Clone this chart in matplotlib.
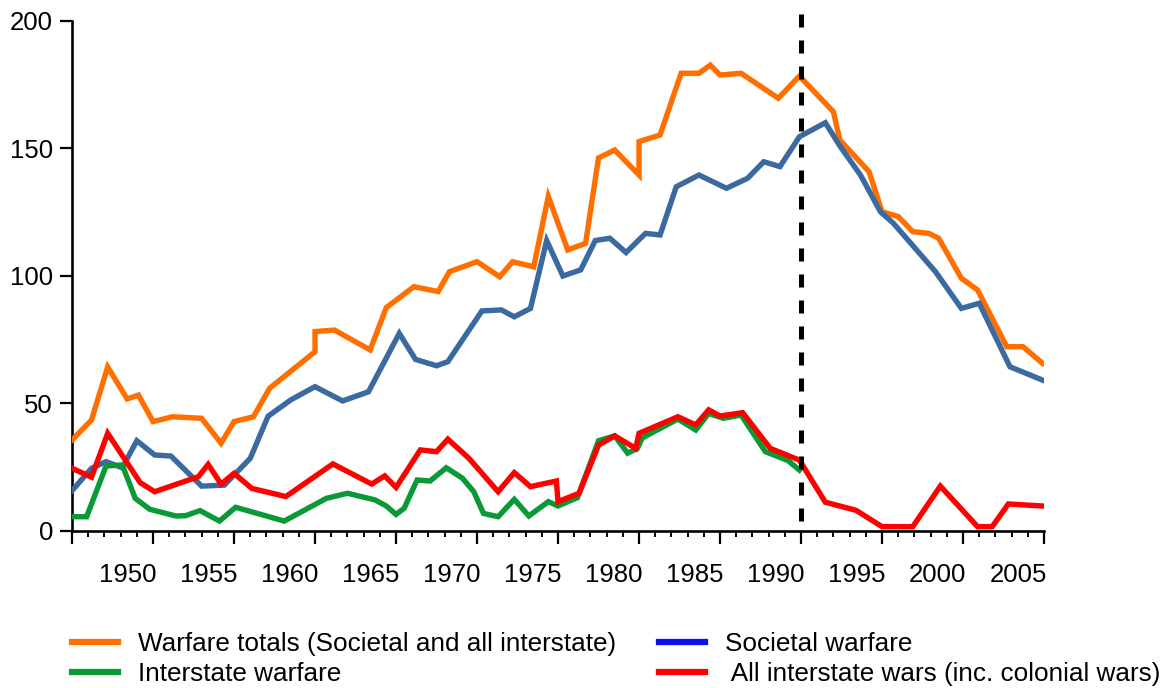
import matplotlib
matplotlib.use("Agg")
import matplotlib.pyplot as plt
from matplotlib.lines import Line2D

plt.rcParams['font.family'] = ['Liberation Sans', 'DejaVu Sans']

# values (year, count of wars)
total_years = [1946.0, 1947.2, 1948.2, 1949.4, 1950.1, 1951.0, 1952.2, 1954.0, 1955.2, 1956.0,
               1957.2, 1958.2, 1961.0, 1961.0, 1962.2, 1964.4, 1965.4, 1967.1, 1968.6, 1969.3,
               1971.0, 1972.4, 1973.2, 1974.5, 1975.4, 1976.6, 1977.7, 1978.5, 1979.5, 1981.0,
               1981.0, 1982.3, 1983.6, 1984.7, 1985.4, 1986.0, 1987.3, 1989.6, 1990.9, 1993.0,
               1993.4, 1995.2, 1996.0, 1997.0, 1997.9, 1998.9, 1999.5, 2000.9, 2001.9, 2003.7,
               2004.7, 2005.9]
total_vals = [35.7, 43.5, 64.3, 51.8, 53.3, 42.9, 44.8, 44.2, 34.4, 42.9,
              44.8, 56.0, 70.3, 78.2, 78.8, 71.0, 87.6, 95.8, 93.9, 101.7,
              105.6, 99.7, 105.6, 103.6, 131.2, 110.2, 112.8, 146.3, 149.4, 139.6,
              152.7, 155.3, 179.5, 179.5, 182.7, 178.8, 179.5, 169.7, 178.4, 164.4,
              153.3, 140.9, 125.2, 123.3, 117.4, 116.7, 114.8, 99.1, 94.5, 72.3,
              72.3, 65.8]

societal_years = [1946.0, 1947.2, 1948.1, 1949.1, 1950.0, 1951.1, 1952.1, 1954.0, 1955.4, 1957.0,
                  1958.1, 1959.5, 1961.0, 1962.7, 1964.3, 1966.2, 1967.2, 1968.5, 1969.2, 1971.3,
                  1972.5, 1973.3, 1974.3, 1975.3, 1976.3, 1977.4, 1978.3, 1979.2, 1980.2, 1981.4,
                  1982.3, 1983.3, 1984.7, 1986.4, 1987.7, 1988.7, 1989.7, 1990.9, 1992.5, 1993.4,
                  1994.7, 1995.9, 1996.7, 1999.3, 2000.9, 2002.0, 2003.9, 2005.9]
societal_vals = [15.8, 24.6, 27.2, 24.8, 35.4, 29.8, 29.4, 17.6, 18.0, 28.5,
                 45.0, 51.4, 56.6, 51.0, 54.6, 77.5, 67.3, 64.8, 66.4, 86.3,
                 86.7, 84.0, 87.3, 113.9, 100.0, 102.4, 113.9, 114.8, 109.2, 116.7,
                 116.1, 135.0, 139.6, 134.4, 138.3, 144.8, 142.9, 154.6, 160.1, 151.0,
                 139.3, 125.2, 120.7, 101.7, 87.3, 89.3, 64.4, 59.2]

interstate_years = [1946.0, 1946.9, 1948.1, 1949.1, 1949.9, 1950.8, 1952.4, 1953.0, 1953.9, 1955.1,
                    1956.1, 1959.1, 1961.7, 1963.0, 1964.7, 1965.4, 1966.0, 1966.5, 1967.3, 1968.1,
                    1969.1, 1970.1, 1970.8, 1971.4, 1972.3, 1973.3, 1974.2, 1975.4, 1976.0, 1977.2,
                    1978.5, 1979.5, 1980.3, 1980.9, 1981.2, 1983.4, 1984.5, 1985.3, 1986.2, 1987.3,
                    1988.8, 1990.2, 1990.9]
interstate_vals = [5.6, 5.6, 25.5, 25.9, 12.8, 8.5, 5.9, 6.0, 8.0, 3.9,
                   9.3, 3.9, 12.8, 14.8, 12.2, 9.8, 6.5, 8.9, 20.0, 19.6,
                   24.8, 20.7, 15.4, 6.9, 5.6, 12.4, 5.9, 11.5, 9.8, 13.1,
                   35.4, 37.3, 30.5, 32.4, 36.5, 43.9, 39.6, 46.1, 44.2, 45.5,
                   31.1, 27.6, 23.9]

all_inter_years = [1946.0, 1947.2, 1948.2, 1950.2, 1951.1, 1953.8, 1954.4, 1955.2, 1956.0, 1957.1,
                   1959.2, 1962.1, 1964.5, 1965.3, 1966.0, 1967.5, 1968.5, 1969.2, 1970.5, 1972.3,
                   1973.3, 1974.3, 1975.9, 1976.0, 1977.3, 1978.5, 1979.5, 1980.8, 1981.0, 1983.4,
                   1984.5, 1985.3, 1986.0, 1987.4, 1989.1, 1990.9, 1992.5, 1994.4, 1996.0, 1997.9,
                   1999.6, 2001.9, 2002.8, 2003.8, 2005.9]
all_inter_vals = [24.6, 21.1, 38.3, 19.0, 15.4, 21.3, 26.1, 18.4, 22.6, 16.7,
                  13.5, 26.3, 18.4, 21.6, 17.1, 31.8, 31.1, 36.0, 28.5, 15.4,
                  22.9, 17.4, 19.6, 11.5, 14.8, 33.7, 37.3, 32.4, 38.3, 44.8,
                  41.6, 47.5, 45.1, 46.4, 32.4, 27.8, 11.3, 8.1, 1.7, 1.7,
                  17.6, 1.7, 1.7, 10.6, 9.8]

label_years = [1950, 1955, 1960, 1965, 1970, 1975, 1980, 1985, 1990, 1995, 2000, 2005]
cold_war_end = 1991

fig = plt.figure(figsize=(11.64, 6.88), dpi=100)
ax = fig.add_axes([0.0619, 0.2282, 0.835, 0.7413])

lw = 3.9
ax.plot(total_years, total_vals, color='#ff6f00', lw=lw, solid_joinstyle='miter', zorder=3)
ax.plot(societal_years, societal_vals, color='#3a6aa0', lw=lw, solid_joinstyle='miter', zorder=4)
ax.plot(interstate_years, interstate_vals, color='#0a9a35', lw=lw, solid_joinstyle='miter', zorder=5)
ax.plot(all_inter_years, all_inter_vals, color='#ff0000', lw=lw, solid_joinstyle='miter', zorder=6)

# end of the Cold War marker
ax.axvline(cold_war_end, ymin=0.02, ymax=1.018, color='black', lw=3.6,
           linestyle=(0, (2.6, 2.6)), clip_on=False, zorder=7)

ax.set_xlim(1946, 2006)
ax.set_ylim(0, 200)
ax.spines['top'].set_visible(False)
ax.spines['right'].set_visible(False)
ax.spines['left'].set_linewidth(1.9)
ax.spines['bottom'].set_linewidth(1.9)

ax.set_yticks([0, 50, 100, 150, 200])
ax.tick_params(axis='y', direction='out', length=8.6, width=1.6, pad=5, labelsize=18.5)
ax.set_xticks(list(range(1946, 2007, 5)))
ax.set_xticks(list(range(1946, 2007)), minor=True)
ax.tick_params(axis='x', which='major', direction='out', length=9.4, width=1.6, labelbottom=False)
ax.tick_params(axis='x', which='minor', direction='out', length=4.5, width=1.4)

# year labels sit a little left of the ticks, as in the original
for yr in label_years:
    ax.text(yr - 0.55, -0.086, str(yr), transform=ax.get_xaxis_transform(),
            ha='center', va='center', fontsize=18.5)

handles = [Line2D([], [], color='#ff6f00', lw=4.5),
           Line2D([], [], color='#0a9a35', lw=4.5),
           Line2D([], [], color='#0a10f0', lw=4.5),
           Line2D([], [], color='#ff0000', lw=4.5)]
labels = ['Warfare totals (Societal and all interstate)', 'Interstate warfare',
          'Societal warfare', ' All interstate wars (inc. colonial wars)']
fig.legend(handles, labels, ncol=2, loc='upper left', bbox_to_anchor=(0.0619, 0.081),
           frameon=False, fontsize=18.8, handlelength=1.76, handletextpad=0.78,
           columnspacing=1.62, labelspacing=0.22, borderpad=0, borderaxespad=0)

fig.savefig('out.png', dpi=100)
